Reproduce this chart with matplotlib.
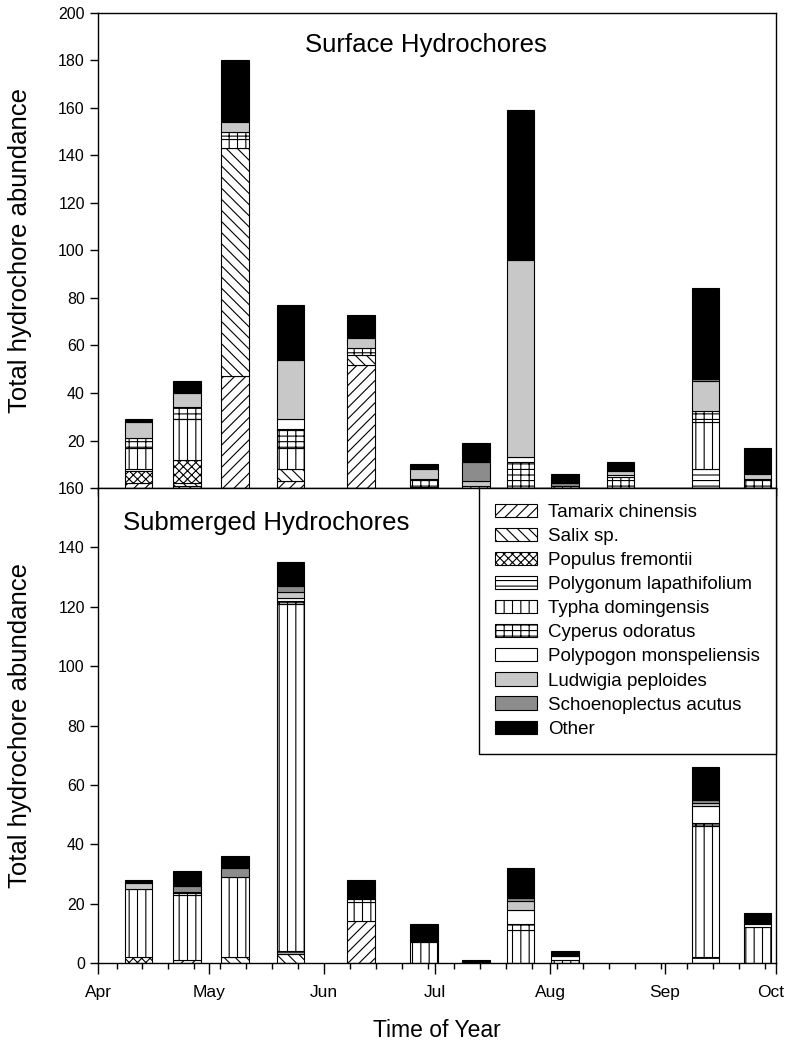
import datetime as dt
import matplotlib
matplotlib.use('Agg')
import matplotlib.pyplot as plt
import matplotlib.dates as mdates
from matplotlib.transforms import ScaledTranslation

plt.rcParams['font.family'] = ['Liberation Sans', 'DejaVu Sans']
plt.rcParams['hatch.linewidth'] = 0.8

# sampling dates
dates = [dt.date(2008, 4, 12), dt.date(2008, 4, 25), dt.date(2008, 5, 8), dt.date(2008, 5, 23),
         dt.date(2008, 6, 11), dt.date(2008, 6, 28), dt.date(2008, 7, 12), dt.date(2008, 7, 24),
         dt.date(2008, 8, 5), dt.date(2008, 8, 20), dt.date(2008, 9, 12), dt.date(2008, 9, 26)]

species = ['Tamarix chinensis', 'Salix sp.', 'Populus fremontii', 'Polygonum lapathifolium',
           'Typha domingensis', 'Cyperus odoratus', 'Polypogon monspeliensis',
           'Ludwigia peploides', 'Schoenoplectus acutus', 'Other']

# surface hydrochores
surf_tamarix = [2, 1, 47, 3, 52, 0.5, 0, 0, 0, 0, 0, 0]
surf_salix = [0, 1, 96, 5, 4, 0, 0, 0, 0, 0, 0, 0]
surf_populus = [5, 10, 0, 0, 0, 0, 0, 0, 0, 0, 0, 0]
surf_polygonum = [1, 0, 0, 0, 0, 0, 0, 0, 0, 0, 8, 0]
surf_typha = [9, 17, 4, 9, 0, 0, 0, 0, 0, 0, 20, 0]
surf_cyperus = [4, 5, 3, 8, 3, 3.5, 1, 11, 1, 4.5, 4.5, 4]
surf_polypogon = [0, 0, 0, 4, 0, 0, 0, 2, 0, 1, 0, 0]
surf_ludwigia = [7, 6, 4, 25, 4, 4, 2, 83, 0, 1.5, 12.5, 2]
surf_schoeno = [0, 0, 0, 0, 0, 0.5, 8, 0, 1, 0, 1, 0]
surf_other = [1, 5, 26, 23, 10, 1.5, 8, 63, 4, 4, 38, 11]

# submerged hydrochores
sub_tamarix = [0, 1, 0, 0, 14, 0, 0, 0, 0, 0, 0, 0]
sub_salix = [0, 0, 2, 3, 0, 0, 0, 0, 0, 0, 0, 0]
sub_populus = [2, 0, 0, 0, 0, 0, 0, 0, 0, 0, 0, 0]
sub_polygonum = [0, 0, 0, 1, 0, 0, 0, 0, 0, 0, 2, 0]
sub_typha = [23, 22, 27, 117, 6.5, 7, 0, 11, 0, 0, 44, 12]
sub_cyperus = [0, 0.5, 0, 1, 1, 0, 0, 2, 1, 0, 1, 0]
sub_polypogon = [0, 0, 0, 1, 0, 0, 0, 5, 1.5, 0, 6, 1]
sub_ludwigia = [2, 0.5, 0, 2, 0, 0.5, 0, 3, 0, 0, 1, 0]
sub_schoeno = [0, 2, 3, 2, 0.5, 0, 0, 1, 0, 0, 1, 0]
sub_other = [1, 5, 4, 8, 6, 5.5, 1, 10, 1.5, 0, 11, 4]

surface = [surf_tamarix, surf_salix, surf_populus, surf_polygonum, surf_typha,
           surf_cyperus, surf_polypogon, surf_ludwigia, surf_schoeno, surf_other]
submerged = [sub_tamarix, sub_salix, sub_populus, sub_polygonum, sub_typha,
             sub_cyperus, sub_polypogon, sub_ludwigia, sub_schoeno, sub_other]

hatches = ['///', '\\\\\\', 'xxxx', '---', '||', '||---', '', '', '', '']
colors = ['white'] * 7 + ['#c8c8c8', '#8c8c8c', 'black']

month_ticks = [dt.date(2008, m, 1) for m in range(4, 11)]
month_labels = ['Apr', 'May', 'Jun', 'Jul', 'Aug', 'Sep', 'Oct']

x = mdates.date2num(dates)
bar_w = 7.4

fig = plt.figure(figsize=(7.87, 10.47), dpi=100)
ax1 = fig.add_axes([0.1245, 0.5339, 0.8616, 0.4537])
ax2 = fig.add_axes([0.1245, 0.0802, 0.8616, 0.4537])


def stack(ax, data):
    bottom = [0] * len(x)
    for vals, name, h, c in zip(data, species, hatches, colors):
        # skip empty segments so no zero-height outlines are drawn
        keep = [i for i, v in enumerate(vals) if v > 0]
        ax.bar([x[i] for i in keep], [vals[i] for i in keep], width=bar_w,
               bottom=[bottom[i] for i in keep], color=c, edgecolor='black',
               linewidth=0.8, hatch=h, label=name, zorder=2)
        bottom = [b + v for b, v in zip(bottom, vals)]


stack(ax1, surface)
stack(ax2, submerged)

x0 = mdates.date2num(month_ticks[0])
x1 = mdates.date2num(month_ticks[-1])
for ax in (ax1, ax2):
    ax.set_xlim(x0, x1)
    ax.set_xticks(mdates.date2num(month_ticks), month_labels)
    ax.tick_params(axis='both', which='major', direction='out', length=6, width=1)
    ax.tick_params(axis='y', labelsize=11.5)
    for s in ax.spines.values():
        s.set_linewidth(1.0)

ax1.set_ylim(0, 200)
ax1.set_yticks(range(20, 201, 20))
ax1.tick_params(axis='x', labelbottom=False)
ax1.text(0.484, 0.933, 'Surface Hydrochores', transform=ax1.transAxes,
         ha='center', va='center', fontsize=18.5)

ax2.set_ylim(0, 160)
ax2.set_yticks(range(0, 161, 20))
ax2.xaxis.set_minor_locator(mdates.WeekdayLocator(byweekday=mdates.SU))
ax2.tick_params(axis='x', which='minor', direction='out', length=4, width=1)
ax2.tick_params(axis='x', which='major', length=8, pad=8, labelsize=12.5)
# nudge the last month label so it stays inside the figure
last = ax2.get_xticklabels()[-1]
last.set_transform(last.get_transform() + ScaledTranslation(-4 / 72, 0, fig.dpi_scale_trans))
ax2.text(0.037, 0.926, 'Submerged Hydrochores', transform=ax2.transAxes,
         ha='left', va='center', fontsize=18.5)

leg = ax2.legend(loc='upper right', bbox_to_anchor=(1, 1), borderaxespad=0,
                 fancybox=False, edgecolor='black', framealpha=1, fontsize=13.5,
                 handlelength=2.25, handleheight=0.7, labelspacing=0.37,
                 handletextpad=0.6, borderpad=0.85)
leg.get_frame().set_linewidth(1.0)
leg.set_zorder(5)

fig.text(0.025, 0.761, 'Total hydrochore abundance', rotation=90, ha='center', va='center', fontsize=18.5)
fig.text(0.025, 0.3075, 'Total hydrochore abundance', rotation=90, ha='center', va='center', fontsize=18.5)
fig.text(0.555, 0.0153, 'Time of Year', ha='center', va='center', fontsize=16.5)

fig.savefig('out.png', dpi=100)
